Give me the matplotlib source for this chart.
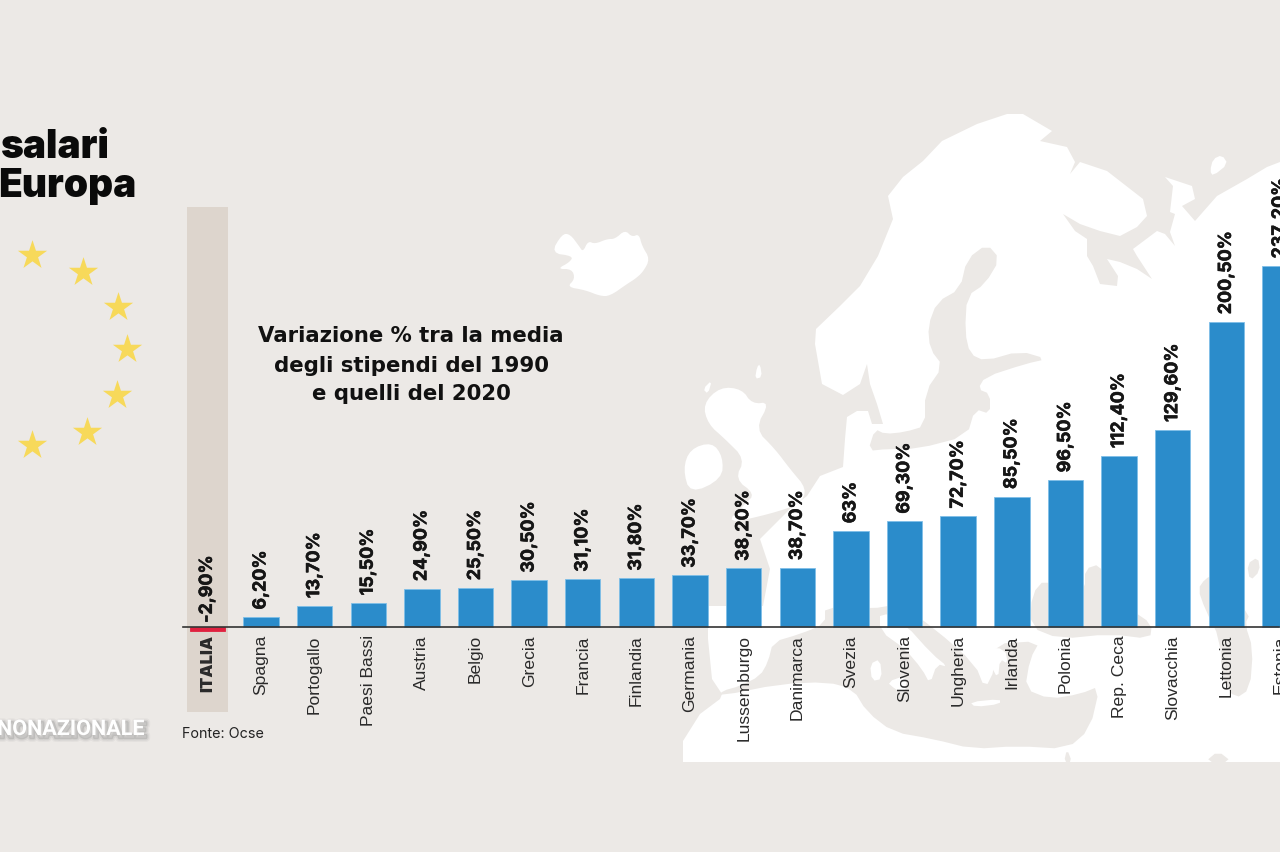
import matplotlib
matplotlib.use("Agg")
import matplotlib.pyplot as plt
import matplotlib.patheffects as pe
from matplotlib.patches import Polygon

# chart data
paesi = ["ITALIA", "Spagna", "Portogallo", "Paesi Bassi", "Austria", "Belgio", "Grecia",
         "Francia", "Finlandia", "Germania", "Lussemburgo", "Danimarca", "Svezia", "Slovenia",
         "Ungheria", "Irlanda", "Polonia", "Rep. Ceca", "Slovacchia", "Lettonia", "Estonia"]
variazione = [-2.9, 6.2, 13.7, 15.5, 24.9, 25.5, 30.5, 31.1, 31.8, 33.7, 38.2, 38.7, 63.0,
              69.3, 72.7, 85.5, 96.5, 112.4, 129.6, 200.5, 237.2]
etichette = ["-2,90%", "6,20%", "13,70%", "15,50%", "24,90%", "25,50%", "30,50%", "31,10%",
             "31,80%", "33,70%", "38,20%", "38,70%", "63%", "69,30%", "72,70%", "85,50%",
             "96,50%", "112,40%", "129,60%", "200,50%", "237,20%"]

SFONDO = "#ECE9E6"
BLU = "#2B8CCB"
ROSSO = "#E0213F"
GIALLO = "#F7D95A"

# background map, rough outlines in picture pixels
terra = [(822, 385), (815, 345), (816, 330), (840, 307), (860, 287), (878, 257), (893, 220),
         (888, 197), (903, 178), (923, 162), (942, 142), (977, 125), (1007, 115), (1023, 115),
         (1052, 132), (1040, 142), (1067, 148), (1075, 163), (1070, 175), (1080, 163),
         (1107, 172), (1143, 200), (1147, 217), (1137, 228), (1120, 237), (1100, 232),
         (1080, 225), (1063, 215), (1075, 232), (1087, 240), (1087, 257), (1093, 267),
         (1100, 285), (1117, 287), (1118, 277), (1107, 260), (1120, 263), (1137, 270),
         (1152, 280), (1137, 257), (1133, 250), (1157, 232), (1165, 235), (1175, 247),
         (1170, 233), (1175, 215), (1170, 213), (1173, 187), (1165, 178), (1192, 187),
         (1195, 200), (1182, 207), (1195, 222), (1217, 197), (1247, 180), (1267, 168),
         (1280, 163), (1280, 763), (683, 763), (683, 742), (700, 715), (720, 700), (722, 695),
         (712, 680), (708, 640), (708, 607), (763, 607), (770, 570), (760, 540), (790, 510),
         (807, 497), (820, 477), (843, 468), (845, 440), (847, 418), (857, 412), (868, 412),
         (872, 425), (883, 425), (877, 405), (870, 385), (867, 365), (860, 385), (843, 396)]
islanda = [(551, 254), (562, 235), (570, 235), (579, 247), (583, 253), (588, 242), (595, 245),
           (607, 240), (615, 240), (625, 231), (632, 238), (639, 235), (642, 247), (650, 260),
           (643, 273), (635, 280), (627, 285), (610, 297), (600, 297), (585, 291), (567, 288),
           (575, 280), (572, 270), (557, 270), (570, 263), (573, 257)]
gran_bretagna = [(703, 405), (720, 388), (742, 390), (752, 405), (770, 403), (755, 430), (775, 450),
                 (790, 470), (807, 490), (800, 505), (770, 515), (725, 525), (745, 505),
                 (755, 495), (735, 480), (745, 460), (725, 440), (708, 425)]
irlanda = [(683, 470), (690, 450), (712, 443), (723, 458), (722, 480), (690, 495)]
isole = [[(1210, 172), (1213, 160), (1222, 156), (1228, 165), (1213, 177)],
         [(1071, 682), (1090, 668), (1088, 676), (1075, 688)],
         [(703, 390), (712, 381), (708, 395)],
         [(755, 380), (762, 378), (760, 365), (757, 368)],
         [(870, 665), (880, 660), (882, 680), (872, 682)],
         [(887, 683), (907, 676), (905, 695), (895, 690)],
         [(970, 703), (1000, 700), (1000, 705), (975, 708)]]
italia = [(880, 612), (905, 625), (932, 655), (948, 668), (937, 665), (930, 685), (922, 670),
          (905, 650), (880, 632)]
grecia = [(985, 648), (1005, 650), (1008, 665), (1000, 660), (998, 680), (990, 665)]
baltico = [(987, 245), (1000, 260), (985, 285), (967, 297), (965, 333), (970, 355), (985, 362),
           (1020, 352), (1047, 360), (1025, 365), (985, 378), (978, 390), (990, 395), (990, 415),
           (975, 410), (967, 437), (917, 450), (887, 450), (868, 452), (875, 430), (885, 435),
           (905, 433), (925, 427), (925, 393), (943, 367), (930, 350), (928, 327), (937, 303),
           (960, 290), (967, 260)]
mediterraneo = [(722, 692), (740, 687), (760, 677), (768, 663), (773, 643), (800, 635), (825, 625),
                (825, 607), (870, 610), (900, 605), (935, 630), (975, 665), (985, 690), (995, 670),
                (993, 645), (1040, 642), (1030, 660), (1025, 690), (1050, 700), (1080, 695),
                (1100, 687), (1090, 730), (1067, 750), (1017, 747), (973, 750), (933, 740),
                (893, 733), (867, 713), (853, 690), (827, 683), (780, 685), (720, 697)]
mar_nero = [(1045, 580), (1075, 595), (1085, 590), (1085, 570), (1100, 565), (1105, 585), (1130, 610),
            (1152, 625), (1150, 640), (1110, 635), (1060, 640), (1030, 628), (1032, 595)]
caspio = [(1205, 580), (1198, 590), (1205, 610), (1220, 640), (1222, 680), (1235, 700),
          (1250, 690), (1253, 650), (1245, 625), (1250, 615), (1215, 575)]
aral = [(1247, 565), (1258, 558), (1260, 572), (1250, 582)]
golfo_persico = [(1205, 763), (1218, 752), (1232, 763)]
mar_rosso = [(1064, 763), (1067, 750), (1072, 763)]

# star centres of the flag, picture pixels
stelle_x = [32, 83, 118, 127, 117, 87, 32]
stelle_y = [256, 273, 308, 350, 396, 433, 446]


def arrotonda(punti, giri=2):
    # corner cutting, keeps the coast from looking like straight segments
    for _ in range(giri):
        nuovi = []
        for i in range(len(punti)):
            x0, y0 = punti[i]
            x1, y1 = punti[(i + 1) % len(punti)]
            nuovi.append((0.75 * x0 + 0.25 * x1, 0.75 * y0 + 0.25 * y1))
            nuovi.append((0.25 * x0 + 0.75 * x1, 0.25 * y0 + 0.75 * y1))
        punti = nuovi
    return punti


fig = plt.figure(figsize=(12.8, 8.53), dpi=100, facecolor=SFONDO)

mappa = fig.add_axes([0, 0, 1, 1])
mappa.set_xlim(0, 1280)
mappa.set_ylim(853, 0)
mappa.axis("off")
# the big land shape keeps its straight right and bottom edges
mappa.add_patch(Polygon(terra, fc="white", ec="none"))
for forma in [islanda, gran_bretagna, irlanda]:
    mappa.add_patch(Polygon(arrotonda(forma), fc="white", ec="none"))
for forma in [baltico, mediterraneo, mar_nero, caspio, aral, golfo_persico, mar_rosso]:
    mappa.add_patch(Polygon(arrotonda(forma, 1), fc=SFONDO, ec="none"))
for forma in [italia, grecia] + isole:
    mappa.add_patch(Polygon(arrotonda(forma, 1), fc="white", ec="none"))
mappa.add_patch(plt.Rectangle((187, 207.5), 41, 505.5, fc="#DDD5CD", ec="none"))
mappa.scatter(stelle_x, stelle_y, marker="*", s=490, color=GIALLO, linewidths=0)

mappa.text(110, 158, "salari", fontsize=28, fontweight="black", family="Inter", ha="right", color="#0A0A0A")
mappa.text(136, 197, "Europa", fontsize=28, fontweight="black", family="Inter", ha="right", color="#0A0A0A")
for testo, y in [("Variazione % tra la media", 336), ("degli stipendi del 1990", 366), ("e quelli del 2020", 394)]:
    mappa.text(411, y, testo, fontsize=15.3, fontweight="bold", family="DejaVu Sans",
               ha="center", va="center", color="#111111")
mappa.text(182, 734, "Fonte: Ocse", fontsize=10.3, family="Inter", va="center", color="#222222")
ombra = [pe.Stroke(linewidth=6, foreground="#777777", alpha=0.07, offset=(1.5, -2)),
         pe.Stroke(linewidth=4, foreground="#777777", alpha=0.12, offset=(1.5, -2)),
         pe.Stroke(linewidth=2, foreground="#666666", alpha=0.2, offset=(1.5, -2)),
         pe.Normal()]
mappa.text(144, 730, "NONAZIONALE", fontsize=15.5, fontweight="bold", family="Roboto",
           ha="right", va="center", color="white", path_effects=ombra)

# bars: one category is 53.68 px, one percent point is 1.52 px
passo = 53.68
scala = 1.52
ax = fig.add_axes([0, 0, 1, 1])
ax.patch.set_alpha(0)
ax.set_xlim(-207.5 / passo, (1280 - 207.5) / passo)
ax.set_ylim(-(853 - 627.5) / scala, 627.5 / scala)

colori = [ROSSO if v < 0 else BLU for v in variazione]
bordi = [ROSSO if v < 0 else "#7FBFE8" for v in variazione]
ax.bar(range(len(paesi)), variazione, width=0.66, color=colori, edgecolor=bordi, linewidth=0.6, zorder=2)

for i, v in enumerate(variazione):
    scarto = 2.6 if v < 0 else 5.4
    ax.annotate(etichette[i], (i, max(v, 0)), xytext=(0, scarto), textcoords="offset points",
                rotation=90, ha="center", va="bottom", fontsize=12.9, fontweight="bold",
                family="Inter", color="#161616",
                path_effects=[pe.withStroke(linewidth=0.4, foreground="#161616")])

for nome in ["top", "left", "right"]:
    ax.spines[nome].set_visible(False)
ax.spines["bottom"].set_position(("data", 0))
ax.spines["bottom"].set_bounds(-24.5 / passo, (1280 - 207.5) / passo)
ax.spines["bottom"].set_color("#333333")
ax.spines["bottom"].set_linewidth(1.2)
ax.spines["bottom"].set_zorder(3)
ax.set_yticks([])
ax.set_xticks(range(len(paesi)))
ax.set_xticklabels(paesi, rotation=90, family="Liberation Sans", fontsize=12.6, color="#2A2A2A")
ax.tick_params(axis="x", length=0, pad=5.5)
ax.get_xticklabels()[0].set_fontweight("black")
ax.get_xticklabels()[0].set_family("Inter")
ax.get_xticklabels()[0].set_fontsize(12)

fig.savefig("out.png", dpi=100, facecolor=SFONDO)
